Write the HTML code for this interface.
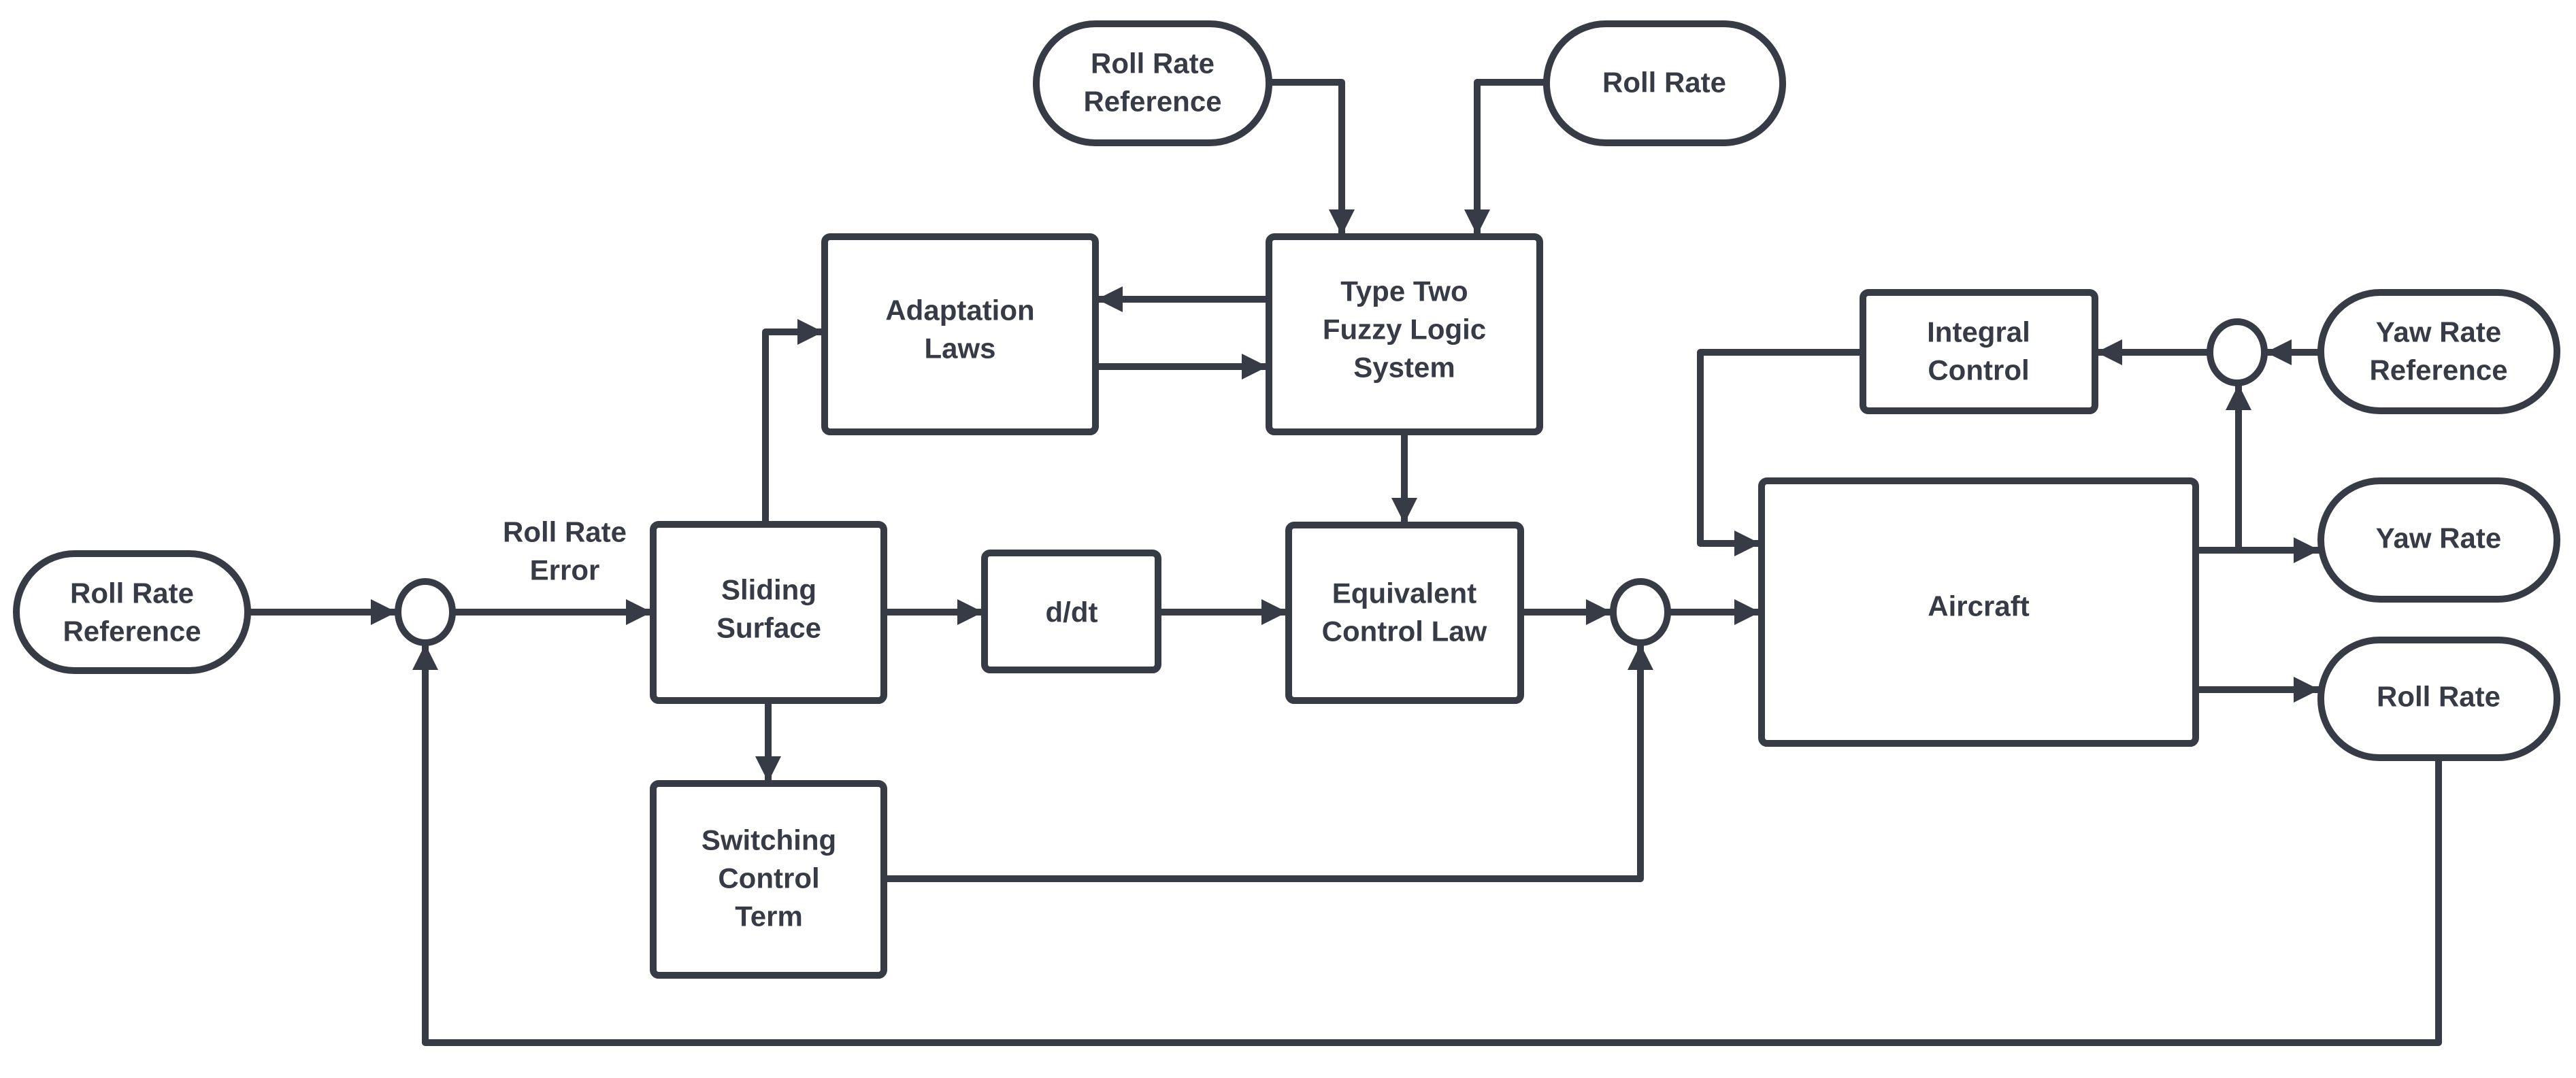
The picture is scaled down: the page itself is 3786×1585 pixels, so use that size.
<!DOCTYPE html>
<html><head><meta charset="utf-8"><style>
html,body{margin:0;padding:0;background:#fff;}
svg{display:block;}
text{font-family:"Liberation Sans",Arial,sans-serif;font-size:42px;font-weight:bold;fill:#363b45;text-anchor:middle;dominant-baseline:central;}
</style></head><body>
<svg width="3786" height="1585" viewBox="0 0 3786 1585" xmlns="http://www.w3.org/2000/svg">
<defs>
<marker id="a" markerUnits="userSpaceOnUse" markerWidth="46" markerHeight="38" viewBox="0 0 10 10" refX="10" refY="5" orient="auto">
<path d="M0,0 L10,5 L0,10 z" fill="#363b45"/>
</marker>
</defs>
<g fill="#fff" stroke="#363b45" stroke-width="10">
<!-- pills -->
<rect x="24" y="814" width="340" height="172" rx="86"/>
<rect x="1523" y="35" width="342" height="175" rx="87"/>
<rect x="2273" y="35" width="347" height="175" rx="87"/>
<rect x="3411" y="430" width="347" height="174" rx="87"/>
<rect x="3411" y="707" width="347" height="174" rx="87"/>
<rect x="3411" y="941" width="347" height="173" rx="86"/>
<!-- boxes -->
<rect x="960" y="771" width="339" height="259" rx="8"/>
<rect x="960" y="1152" width="339" height="282" rx="8"/>
<rect x="1212" y="348" width="398" height="287" rx="8"/>
<rect x="1865" y="348" width="398" height="287" rx="8"/>
<rect x="1447" y="813" width="255" height="172" rx="8"/>
<rect x="1894" y="772" width="341" height="258" rx="8"/>
<rect x="2738" y="430" width="341" height="174" rx="8"/>
<rect x="2589" y="707" width="638" height="386" rx="8"/>
<!-- circles -->
<ellipse cx="625" cy="900" rx="40" ry="45"/>
<ellipse cx="2411" cy="900" rx="40" ry="45"/>
<ellipse cx="3288" cy="518" rx="40" ry="45"/>
</g>
<g fill="none" stroke="#363b45" stroke-width="10" stroke-linejoin="round" marker-end="url(#a)">
<path d="M364,900 H583"/>
<path d="M667,900 H958"/>
<path d="M1301,900 H1445"/>
<path d="M1704,900 H1892"/>
<path d="M2237,900 H2369"/>
<path d="M2453,900 H2587"/>
<path d="M1125,771 V488 H1210"/>
<path d="M1129,1032 V1150"/>
<path d="M1301,1292 H2411 V947"/>
<path d="M1865,440 H1612"/>
<path d="M1612,539 H1863"/>
<path d="M2064,637 V770"/>
<path d="M1865,121 H1972 V346"/>
<path d="M2273,121 H2171 V346"/>
<path d="M2738,518 H2499 V799 H2587"/>
<path d="M3246,518 H3081"/>
<path d="M3411,518 H3330"/>
<path d="M3229,809 H3409"/>
<path d="M3290,809 V565"/>
<path d="M3229,1014 H3409"/>
<path d="M3584,1114 V1533 H625 V947"/>
</g>
<text x="194" y="872">Roll Rate</text>
<text x="194" y="928">Reference</text>
<text x="830" y="782">Roll Rate</text>
<text x="830" y="838">Error</text>
<text x="1130" y="867">Sliding</text>
<text x="1130" y="923">Surface</text>
<text x="1130" y="1235">Switching</text>
<text x="1130" y="1291">Control</text>
<text x="1130" y="1347">Term</text>
<text x="1575" y="900">d/dt</text>
<text x="2064" y="872">Equivalent</text>
<text x="2064" y="928">Control Law</text>
<text x="1411" y="456">Adaptation</text>
<text x="1411" y="512">Laws</text>
<text x="2064" y="428">Type Two</text>
<text x="2064" y="484">Fuzzy Logic</text>
<text x="2064" y="540">System</text>
<text x="1694" y="93">Roll Rate</text>
<text x="1694" y="149">Reference</text>
<text x="2446" y="121">Roll Rate</text>
<text x="2908" y="488">Integral</text>
<text x="2908" y="544">Control</text>
<text x="3584" y="488">Yaw Rate</text>
<text x="3584" y="544">Reference</text>
<text x="3584" y="791">Yaw Rate</text>
<text x="3584" y="1024">Roll Rate</text>
<text x="2908" y="891">Aircraft</text>
</svg>
</body></html>
